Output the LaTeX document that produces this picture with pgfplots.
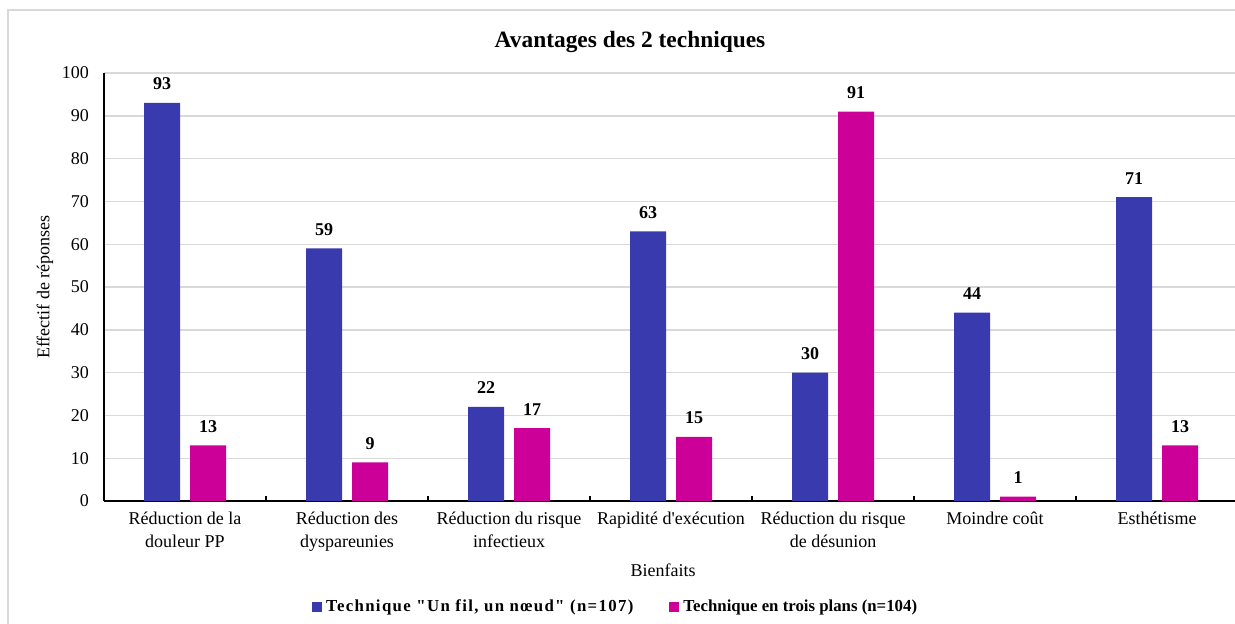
\documentclass[border=0pt]{standalone}
\usepackage{fontspec}
\setmainfont{Liberation Serif}
\newfontfamily\legendfont[LetterSpace=8]{Liberation Serif}
\usepackage{pgfplots}
\pgfplotsset{compat=1.18}
\definecolor{bleu}{RGB}{58,58,175}
\definecolor{rose}{RGB}{204,0,153}
\definecolor{grille}{RGB}{217,217,217}

\begin{document}
\begin{tikzpicture}
\useasboundingbox (0,0) rectangle (617.5pt,311.5pt);
\draw[grille, line width=0.8pt] (4pt,-10pt) -- (4pt,306.5pt) -- (630pt,306.5pt);
\begin{axis}[
    at={(52pt,61pt)}, anchor=south west,
    scale only axis, width=567pt, height=214pt,
    ybar=5pt, bar width=18pt,
    xmin=-0.5, xmax=6.5, ymin=0, ymax=100,
    ytick={0,10,...,100},
    xtick={0,...,6},
    xticklabels={{Réduction de la\\douleur PP},{Réduction des\\dyspareunies},{Réduction du risque\\infectieux},{Rapidité d\textquotesingle exécution},{Réduction du risque\\de désunion},{Moindre coût},{Esthétisme}},
    xticklabel style={font=\fontsize{9}{11.5}\selectfont, align=center, yshift=-2pt},
    yticklabel style={font=\fontsize{9}{10}\selectfont, xshift=-4pt},
    /pgf/number format/assume math mode=true,
    major tick length=0pt,
    extra x ticks={-0.5,0.5,...,6.5},
    extra x tick labels={},
    extra x tick style={major tick length=2.5pt, tick align=inside, tick style={black, line width=0.6pt}},
    axis x line*=bottom, axis y line*=left,
    axis line style={-, black, line width=0.9pt},
    ymajorgrids, grid style={grille, line width=0.7pt},
    clip=false,
    nodes near coords,
    nodes near coords style={font=\bfseries\fontsize{9}{10}\selectfont, yshift=3pt},
    legend columns=2,
    legend style={at={(0.452,-0.248)}, anchor=center, draw=none, fill=none,
        font=\bfseries\fontsize{8.4}{10}\selectfont,
        /tikz/every even column/.append style={column sep=16pt}},
    legend image code/.code={\fill[#1] (0pt,-2.5pt) rectangle (5pt,2.5pt);},
]
\addplot[fill=bleu, draw=none] coordinates {
    (0,93) (1,59) (2,22) (3,63) (4,30) (5,44) (6,71)};
\addlegendentry{\legendfont\bfseries Technique \symbol{34}Un fil, un nœud\symbol{34} (n=107)}
\addplot[fill=rose, draw=none] coordinates {
    (0,13) (1,9) (2,17) (3,15) (4,91) (5,1) (6,13)};
\addlegendentry{Technique en trois plans (n=104)}
\end{axis}
\node[font=\bfseries\fontsize{11.7}{14}\selectfont] at (315pt,290.5pt) {Avantages des 2 techniques};
\node[font=\fontsize{9}{11}\selectfont, rotate=90] at (22.5pt,168pt) {Effectif de réponses};
\node[font=\fontsize{9}{11}\selectfont] at (331.5pt,26.5pt) {Bienfaits};
\end{tikzpicture}
\end{document}
